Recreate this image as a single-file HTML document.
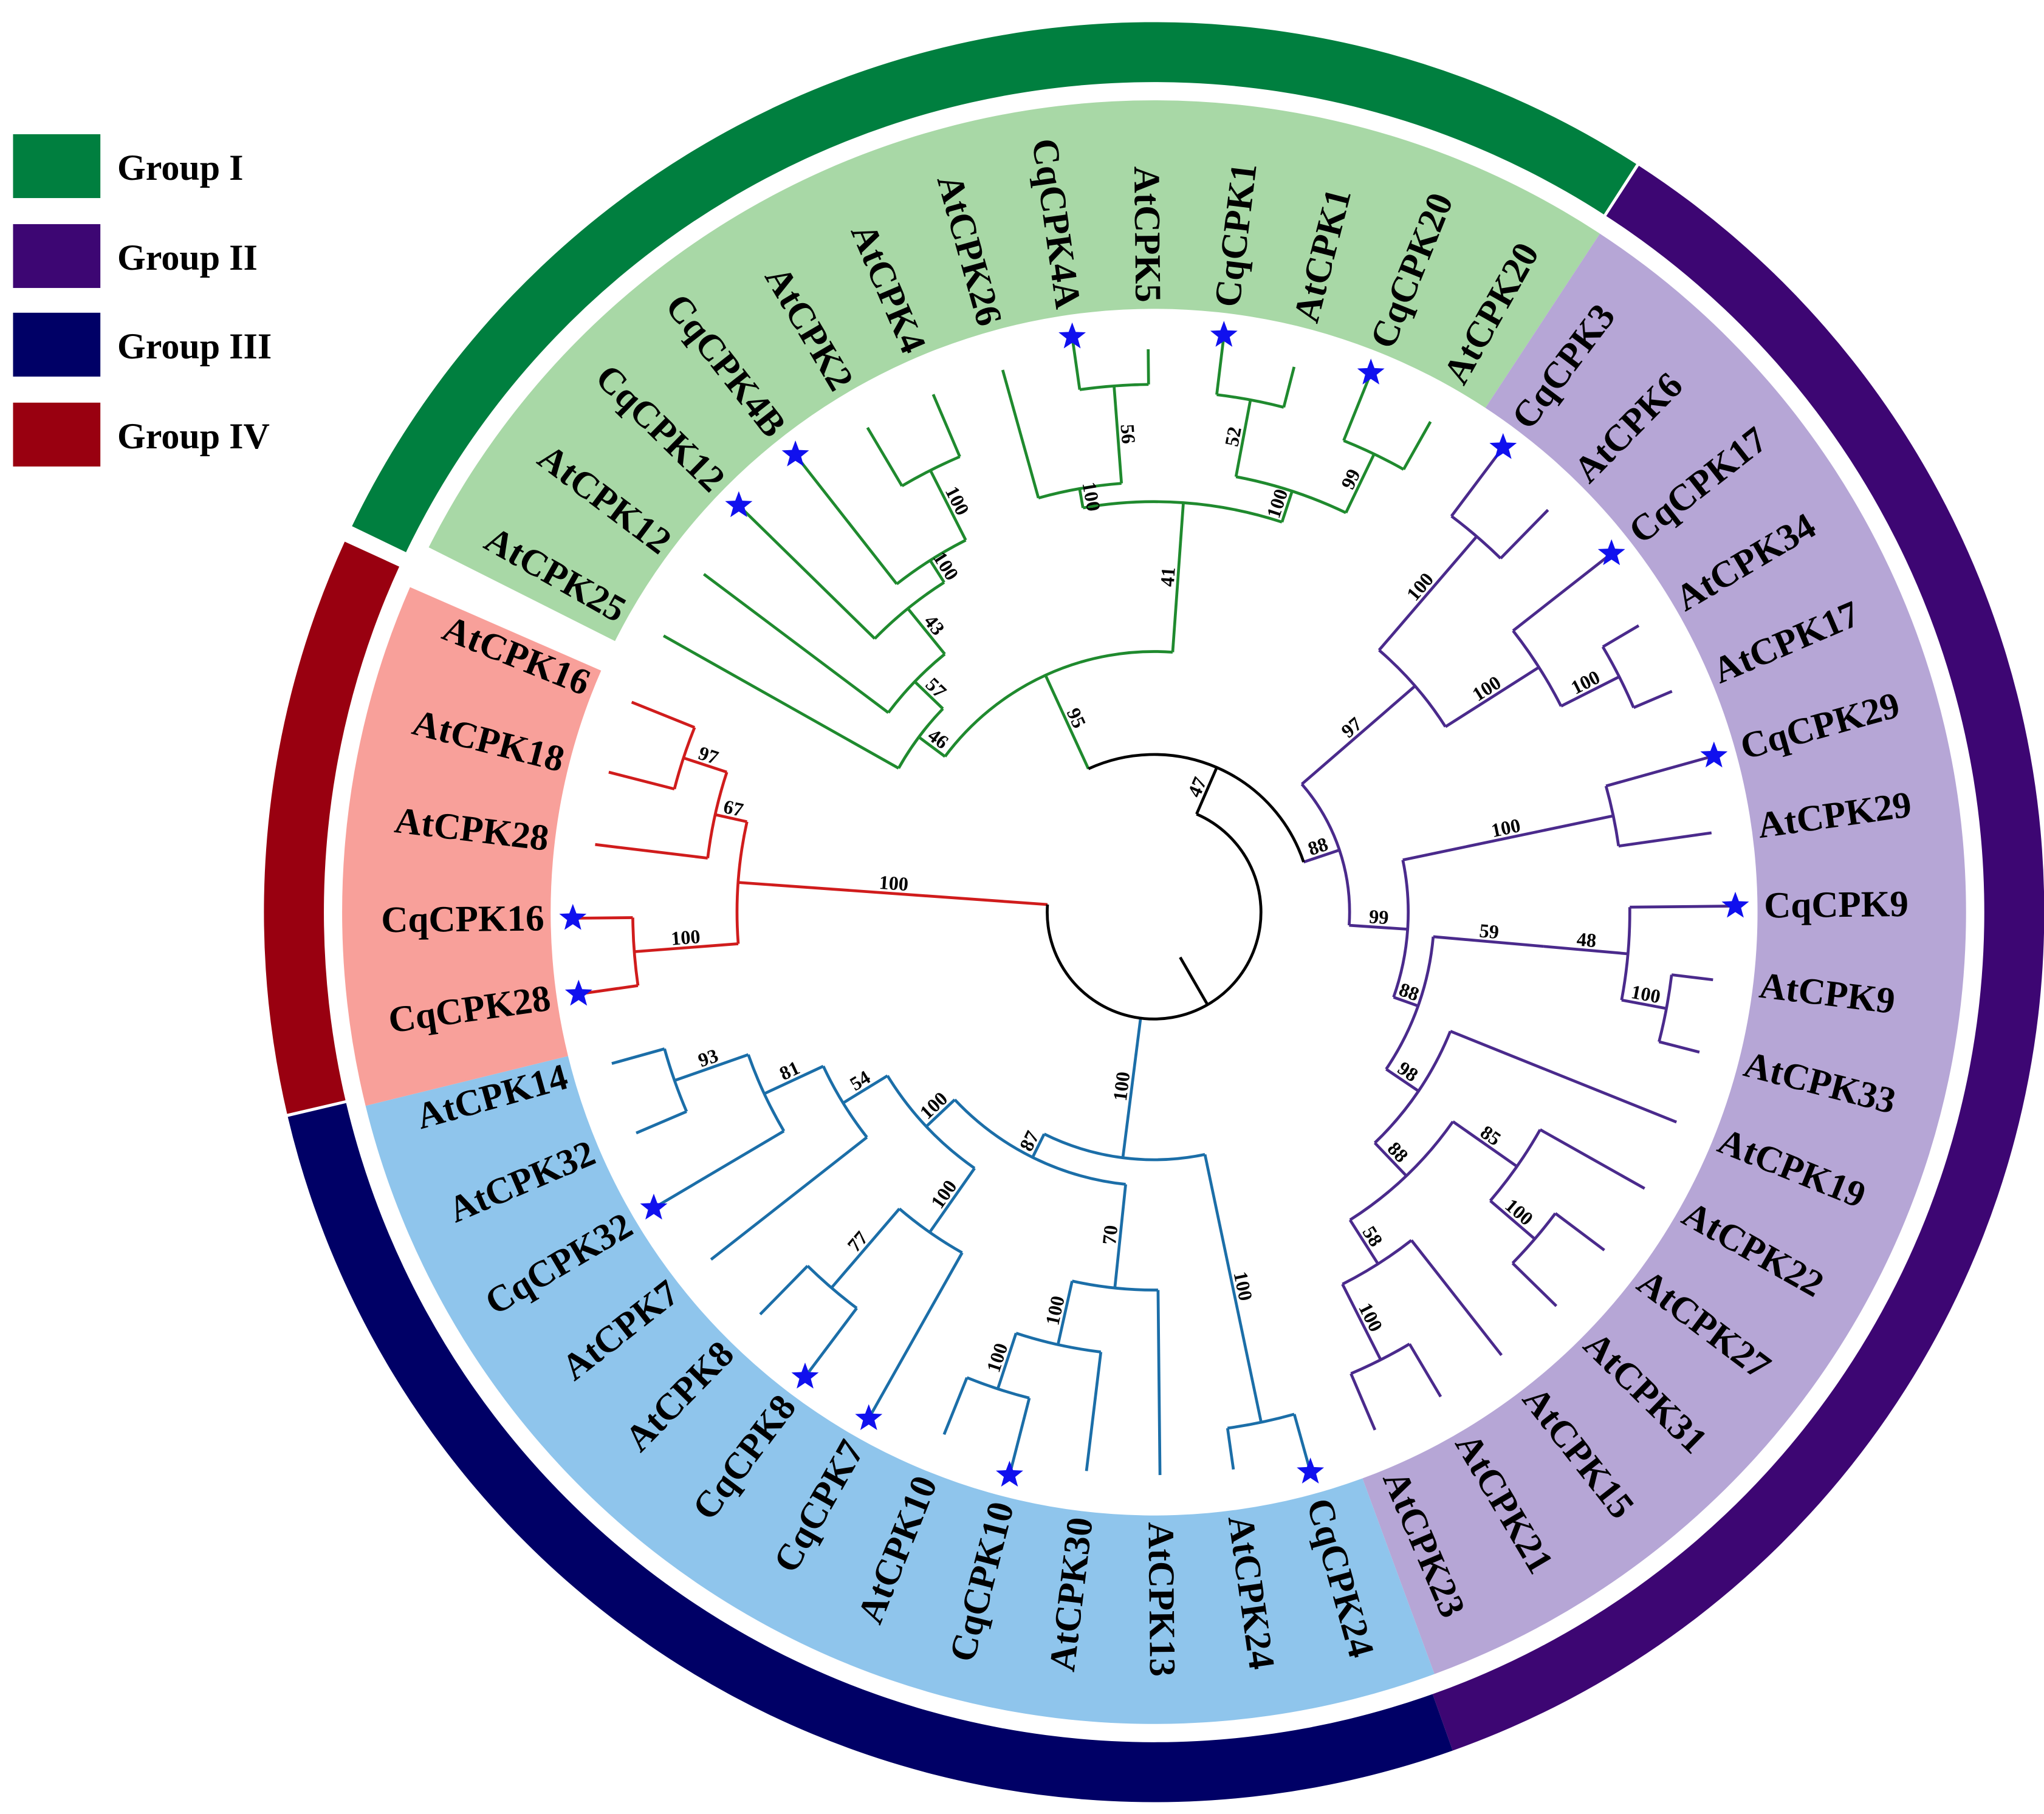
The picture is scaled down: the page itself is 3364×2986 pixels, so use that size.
<!DOCTYPE html>
<html><head><meta charset="utf-8">
<style>
html,body{margin:0;padding:0;background:#fff;}
svg{display:block;}
text{font-family:"Liberation Serif",serif;font-weight:bold;}
</style></head>
<body>
<svg id="s" xmlns="http://www.w3.org/2000/svg" width="3364" height="2986" viewBox="0 0 1568.3 1392.1">
<rect x="0" y="0" width="1568.3" height="1392.1" fill="#fff"/>
<g id="bands"></g>
<g id="tree" fill="none" stroke-width="2.2"></g>
<g id="labels"></g>
<g id="legend">
<rect x="10" y="103" width="67" height="49" fill="#007f3f"/>
<rect x="10" y="172" width="67" height="49" fill="#3d0673"/>
<rect x="10" y="240" width="67" height="49" fill="#000066"/>
<rect x="10" y="309" width="67" height="49" fill="#990010"/>
<text x="90" y="138" font-size="28">Group I</text>
<text x="90" y="207" font-size="28">Group II</text>
<text x="90" y="275" font-size="28">Group III</text>
<text x="90" y="344" font-size="28">Group IV</text>
</g>
</svg>
<script>
(function(){
const NS="http://www.w3.org/2000/svg";
const cx=885.5, cy=700;
function P(r,a){const t=a*Math.PI/180;return [cx+r*Math.sin(t), cy-r*Math.cos(t)];}
function el(tag,attrs,parent,txt){const e=document.createElementNS(NS,tag);for(const k in attrs)e.setAttribute(k,attrs[k]);if(txt!==undefined)e.textContent=txt;parent.appendChild(e);return e;}
function sector(r1,r2,a1,a2){
  const la=(a2-a1)>180?1:0;
  const p1=P(r2,a1),p2=P(r2,a2),p3=P(r1,a2),p4=P(r1,a1);
  return `M${p1[0]},${p1[1]} A${r2},${r2} 0 ${la} 1 ${p2[0]},${p2[1]} L${p3[0]},${p3[1]} A${r1},${r1} 0 ${la} 0 ${p4[0]},${p4[1]} Z`;
}
const bands=document.getElementById('bands');
[[-64.3,32.8,'#007f3f'],[33.0,160.4,'#3d0673'],[160.4,256.7,'#000066'],[256.9,294.6,'#990010']].forEach(b=>el('path',{d:sector(637,683,b[0],b[1]),fill:b[2]},bands));
[[-63.3,33.3,'#a8d8a6'],[33.3,159.8,'#b6a6d6'],[159.8,256.2,'#8fc5ec'],[256.2,293.6,'#f8a09a']].forEach(b=>el('path',{d:sector(463,623,b[0],b[1]),fill:b[2]},bands));

function N(r,b,...c){return {r:r,b:b,c:c};}
const G1=N(200,95, N(225,46,'AtCPK25', N(255,57,'AtCPK12', N(300,43,'CqCPK12', N(320,100,'CqCPK4B', N(380,100,'AtCPK2','AtCPK4'))))),
  N(315,41, N(330,100,'AtCPK26', N(405,56,'CqCPK4A','AtCPK5')), N(340,100, N(400,52,'CqCPK1','AtCPK1'), N(390,99,'CqCPK20','AtCPK20'))));
G1.col='#1f8a2e';
const G2=N(150,88,
  N(265,97, N(380,100,'CqCPK3','AtCPK6'), N(350,100,'CqCPK17', N(400,100,'AtCPK34','AtCPK17'))),
  N(195,99, N(360,100,'CqCPK29','AtCPK29'),
    N(215,88, N(300,59, N(365,48,'CqCPK9', N(400,100,'AtCPK9','AtCPK33'))),
      N(245,98,'AtCPK19', N(280,88, N(340,85,'AtCPK22', N(385,100,'AtCPK27','AtCPK31')), N(320,58,'AtCPK15', N(385,100,'AtCPK21','AtCPK23')))))));
G2.col='#4a2a8c';
const G3=N(190,100, N(400,100,'CqCPK24','AtCPK24'),
  N(210,87, N(290,70,'AtCPK13', N(340,100,'AtCPK30', N(385,100,'CqCPK10','AtCPK10'))),
    N(240,100, N(300,100,'CqCPK7', N(380,77,'CqCPK8','AtCPK8')), N(280,54,'AtCPK7', N(330,81,'CqCPK32', N(390,93,'AtCPK32','AtCPK14'))))));
G3.col='#1b6ea8';
const G4=N(320,100, N(400,100,'CqCPK28','CqCPK16'), N(345,67,'AtCPK28', N(380,97,'AtCPK18','AtCPK16')));
G4.col='#d01c1c';
const n47=N(121,47,G1,G2); n47.col='#000';
const root=N(82,null,n47,G3,G4); root.col='#000';

const tree=document.getElementById('tree');
const labels=document.getElementById('labels');
let idx=0;
function line(r1,r2,a,col){const p=P(r1,a),q=P(r2,a);el('line',{x1:p[0],y1:p[1],x2:q[0],y2:q[1],stroke:col},tree);}
function arc(r,a1,a2,col){if(Math.abs(a2-a1)<0.01)return;const p=P(r,a1),q=P(r,a2);const la=(a2-a1)>180?1:0;el('path',{d:`M${p[0]},${p[1]} A${r},${r} 0 ${la} 1 ${q[0]},${q[1]}`,stroke:col},tree);}
function rightHalf(a){let n=((a%360)+360)%360;return n>0.01&&n<180;}
function star(x,y,R){let pts=[];for(let i=0;i<10;i++){const rr=i%2?R*0.42:R;const t=Math.PI*i/5;pts.push((x+rr*Math.sin(t)).toFixed(2)+','+(y-rr*Math.cos(t)).toFixed(2));}el('polygon',{points:pts.join(' '),fill:'#1010ee'},labels);}
function leafLabel(name,a){
  const p=P(468,a);
  const rot=rightHalf(a)?a-90:a+90;
  el('text',{x:p[0],y:p[1],'font-size':28.5,'text-anchor':rightHalf(a)?'start':'end','dominant-baseline':'central',transform:`rotate(${rot} ${p[0]} ${p[1]})`},labels,name);
}
function layout(node,pr,col){
  if(typeof node==='string'){
    const a=-60.6+7.5*(idx++);
    const cq=node.startsWith('Cq');
    const tip=cq?443:432;
    line(pr,tip,a,col);
    if(cq){const s=P(446,a);star(s[0],s[1],11);}
    leafLabel(node,a);
    return a;
  }
  const c=node.col||col;
  const angs=node.c.map(ch=>layout(ch,node.r,ch.col||c));
  const a1=angs[0],a2=angs[angs.length-1];
  const a=(a1+a2)/2;
  arc(node.r,a1,a2,c);
  if(pr!==null){
    line(pr,node.r,a,c);
    if(node.b!==null){
      const mr=(pr+node.r)/2;
      const off=8/mr*180/Math.PI;
      const p=P(mr,a+(rightHalf(a)?-off:off));
      const rot=rightHalf(a)?a-90:a+90;
      el('text',{x:p[0],y:p[1],'font-size':15,'text-anchor':'middle','dominant-baseline':'central',transform:`rotate(${rot} ${p[0]} ${p[1]})`},labels,String(node.b));
    }
  }
  return a;
}
layout(root,null,'#000');
line(40,82,150,'#000');
})();
</script>
</body></html>
